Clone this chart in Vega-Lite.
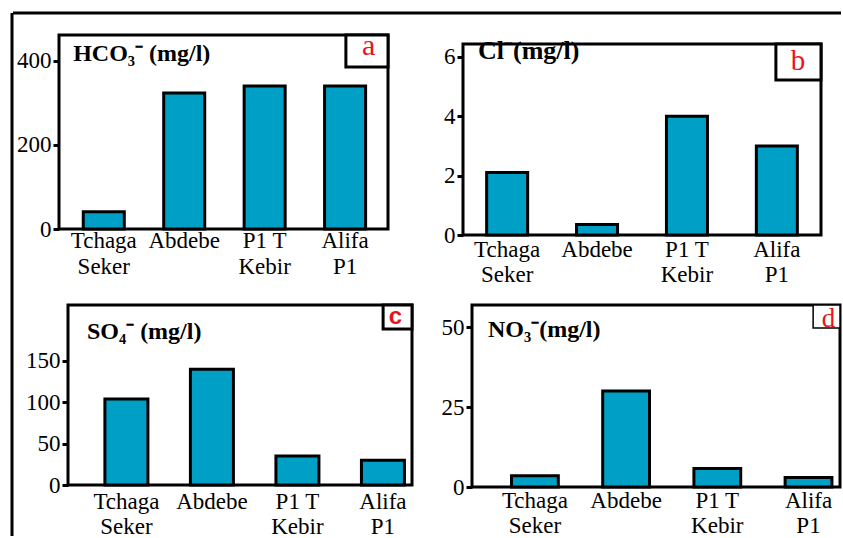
{
  "$schema": "https://vega.github.io/schema/vega-lite/v6.json",
  "padding": {"left": 10, "top": 11, "right": 0, "bottom": 0},
  "background": "white",
  "datasets": {
    "chem": [
      {"ion": "HCO3", "site": "Tchaga Seker", "value": 41},
      {"ion": "HCO3", "site": "Abdebe", "value": 323},
      {"ion": "HCO3", "site": "P1 T Kebir", "value": 340},
      {"ion": "HCO3", "site": "Alifa P1", "value": 340},
      {"ion": "Cl", "site": "Tchaga Seker", "value": 2.1},
      {"ion": "Cl", "site": "Abdebe", "value": 0.35},
      {"ion": "Cl", "site": "P1 T Kebir", "value": 4.0},
      {"ion": "Cl", "site": "Alifa P1", "value": 3.0},
      {"ion": "SO4", "site": "Tchaga Seker", "value": 104},
      {"ion": "SO4", "site": "Abdebe", "value": 140},
      {"ion": "SO4", "site": "P1 T Kebir", "value": 35},
      {"ion": "SO4", "site": "Alifa P1", "value": 30},
      {"ion": "NO3", "site": "Tchaga Seker", "value": 3.5},
      {"ion": "NO3", "site": "Abdebe", "value": 30},
      {"ion": "NO3", "site": "P1 T Kebir", "value": 5.8},
      {"ion": "NO3", "site": "Alifa P1", "value": 3}
    ],
    "spacer": [{"s": 0}]
  },
  "concat": [
    {
      "width": 1, "height": 523,
      "view": {"stroke": null},
      "data": {"values": [{"line": "left"}]},
      "mark": {"type": "rule", "strokeWidth": 3, "color": "black"},
      "encoding": {"x": {"datum": 0, "type": "quantitative", "axis": null}}
    },
    {
      "concat": [
        {
          "width": 828, "height": 1,
          "view": {"stroke": null},
          "data": {"values": [{"line": "top"}]},
          "mark": {"type": "rule", "strokeWidth": 3, "color": "black"},
          "encoding": {"y": {"datum": 0, "type": "quantitative", "axis": null}}
        },
        {
          "concat": [
            {
              "concat": [
                {
                  "concat": [
                    {"width": 1, "height": 1, "view": {"stroke": null}, "data": {"name": "spacer"}, "mark": {"type": "rule", "opacity": 0}, "encoding": {"x": {"datum": 0, "type": "quantitative", "axis": null}}},
                    {
                      "width": 329, "height": 194,
                      "resolve": {"scale": {"x": "independent"}},
                      "layer": [
                        {
                          "data": {"name": "chem"},
                          "transform": [{"filter": "datum.ion === 'HCO3'"}],
                          "mark": {"type": "bar", "fill": "#00A0C6", "stroke": "black", "strokeWidth": 3},
                          "encoding": {
                            "x": {"field": "site", "type": "nominal", "sort": null,
                                  "scale": {"paddingInner": 0.49, "paddingOuter": 0.29, "align": 0.52},
                                  "axis": {"title": null, "labelPadding": 0, "labelLineHeight": 26}},
                            "y": {"field": "value", "type": "quantitative",
                                  "scale": {"domain": [0, 461], "nice": false},
                                  "axis": {"title": null, "values": [0, 200, 400], "minExtent": 43}}
                          }
                        },
                        {
                          "data": {"values": [{"title": "HCO₃⁻ (mg/l)"}]},
                          "mark": {"type": "text", "font": "Liberation Serif", "fontWeight": "bold", "fontSize": 24, "color": "black", "baseline": "alphabetic", "align": "left"},
                          "encoding": {
                            "x": {"datum": 0.043, "type": "quantitative", "scale": {"domain": [0, 1]}, "axis": null},
                            "y": {"datum": 399, "type": "quantitative", "scale": {"domain": [0, 461], "nice": false}},
                            "text": {"field": "title"}
                          }
                        },
                        {
                          "data": {"values": [{"tag": "a"}]},
                          "mark": {"type": "rect", "fill": "white", "stroke": "black", "strokeWidth": 3},
                          "encoding": {
                            "x": {"datum": 0.872, "type": "quantitative", "scale": {"domain": [0, 1]}, "axis": null},
                            "x2": {"datum": 1},
                            "y": {"datum": 461, "type": "quantitative", "scale": {"domain": [0, 461], "nice": false}},
                            "y2": {"datum": 385}
                          }
                        },
                        {
                          "data": {"values": [{"tag": "a"}]},
                          "mark": {"type": "text", "font": "Liberation Serif", "fontSize": 30, "color": "#E8141B", "baseline": "alphabetic", "align": "center"},
                          "encoding": {
                            "x": {"datum": 0.941, "type": "quantitative", "scale": {"domain": [0, 1]}, "axis": null},
                            "y": {"datum": 413, "type": "quantitative", "scale": {"domain": [0, 461], "nice": false}},
                            "text": {"field": "tag"}
                          }
                        }
                      ]
                    }
                  ],
                  "columns": 2, "align": "none", "spacing": 0
                },
                {
                  "concat": [
                    {"width": 1, "height": 1, "view": {"stroke": null}, "data": {"name": "spacer"}, "mark": {"type": "rule", "opacity": 0}, "encoding": {"x": {"datum": 0, "type": "quantitative", "axis": null}}},
                    {
                      "width": 344, "height": 180,
                      "resolve": {"scale": {"x": "independent"}},
                      "layer": [
                        {
                          "data": {"name": "chem"},
                          "transform": [{"filter": "datum.ion === 'SO4'"}],
                          "mark": {"type": "bar", "fill": "#00A0C6", "stroke": "black", "strokeWidth": 3},
                          "encoding": {
                            "x": {"field": "site", "type": "nominal", "sort": null,
                                  "scale": {"paddingInner": 0.497, "paddingOuter": 0.26, "align": 0.83},
                                  "axis": {"title": null, "labelPadding": 5}},
                            "y": {"field": "value", "type": "quantitative",
                                  "scale": {"domain": [0, 217.6], "nice": false},
                                  "axis": {"title": null, "values": [0, 50, 100, 150], "minExtent": 52}}
                          }
                        },
                        {
                          "data": {"values": [{"title": "SO₄⁻ (mg/l)"}]},
                          "mark": {"type": "text", "font": "Liberation Serif", "fontWeight": "bold", "fontSize": 24, "color": "black", "baseline": "alphabetic", "align": "left"},
                          "encoding": {
                            "x": {"datum": 0.055, "type": "quantitative", "scale": {"domain": [0, 1]}, "axis": null},
                            "y": {"datum": 176.5, "type": "quantitative", "scale": {"domain": [0, 217.6], "nice": false}},
                            "text": {"field": "title"}
                          }
                        },
                        {
                          "data": {"values": [{"tag": "c"}]},
                          "mark": {"type": "rect", "fill": "white", "stroke": "black", "strokeWidth": 3},
                          "encoding": {
                            "x": {"datum": 0.916, "type": "quantitative", "scale": {"domain": [0, 1]}, "axis": null},
                            "x2": {"datum": 1},
                            "y": {"datum": 217.6, "type": "quantitative", "scale": {"domain": [0, 217.6], "nice": false}},
                            "y2": {"datum": 188.6}
                          }
                        },
                        {
                          "data": {"values": [{"tag": "c"}]},
                          "mark": {"type": "text", "font": "Liberation Sans", "fontWeight": "bold", "fontSize": 24, "color": "#E8141B", "baseline": "alphabetic", "align": "center"},
                          "encoding": {
                            "x": {"datum": 0.952, "type": "quantitative", "scale": {"domain": [0, 1]}, "axis": null},
                            "y": {"datum": 194.6, "type": "quantitative", "scale": {"domain": [0, 217.6], "nice": false}},
                            "text": {"field": "tag"}
                          }
                        }
                      ]
                    }
                  ],
                  "columns": 2, "align": "none", "spacing": 0
                }
              ],
              "columns": 1, "align": "none", "spacing": 22
            },
            {
              "concat": [
                {"width": 1, "height": 1, "view": {"stroke": null}, "data": {"name": "spacer"}, "mark": {"type": "rule", "opacity": 0}, "encoding": {"x": {"datum": 0, "type": "quantitative", "axis": null}}},
                {
                  "concat": [
                    {
                      "concat": [
                        {"width": 1, "height": 1, "view": {"stroke": null}, "data": {"name": "spacer"}, "mark": {"type": "rule", "opacity": 0}, "encoding": {"x": {"datum": 0, "type": "quantitative", "axis": null}}},
                        {
                          "width": 358, "height": 191,
                          "resolve": {"scale": {"x": "independent"}},
                          "layer": [
                            {
                              "data": {"name": "chem"},
                              "transform": [{"filter": "datum.ion === 'Cl'"}],
                              "mark": {"type": "bar", "fill": "#00A0C6", "stroke": "black", "strokeWidth": 3},
                              "encoding": {
                                "x": {"field": "site", "type": "nominal", "sort": null,
                                      "scale": {"paddingInner": 0.544, "paddingOuter": 0.263, "align": 0.5},
                                      "axis": {"title": null, "labelPadding": 3}},
                                "y": {"field": "value", "type": "quantitative",
                                      "scale": {"domain": [0, 6.43], "nice": false},
                                      "axis": {"title": null, "values": [0, 2, 4, 6], "minExtent": 29}}
                              }
                            },
                            {
                              "data": {"values": [{"title": "Cl⁻(mg/l)"}]},
                              "mark": {"type": "text", "font": "Liberation Serif", "fontWeight": "bold", "fontSize": 26, "color": "black", "baseline": "alphabetic", "align": "left"},
                              "encoding": {
                                "x": {"datum": 0.042, "type": "quantitative", "scale": {"domain": [0, 1]}, "axis": null},
                                "y": {"datum": 5.925, "type": "quantitative", "scale": {"domain": [0, 6.43], "nice": false}},
                                "text": {"field": "title"}
                              }
                            },
                            {
                              "data": {"values": [{"tag": "b"}]},
                              "mark": {"type": "rect", "fill": "white", "stroke": "black", "strokeWidth": 3},
                              "encoding": {
                                "x": {"datum": 0.874, "type": "quantitative", "scale": {"domain": [0, 1]}, "axis": null},
                                "x2": {"datum": 1},
                                "y": {"datum": 6.43, "type": "quantitative", "scale": {"domain": [0, 6.43], "nice": false}},
                                "y2": {"datum": 5.22}
                              }
                            },
                            {
                              "data": {"values": [{"tag": "b"}]},
                              "mark": {"type": "text", "font": "Liberation Serif", "fontSize": 29, "color": "#E8141B", "baseline": "alphabetic", "align": "center"},
                              "encoding": {
                                "x": {"datum": 0.936, "type": "quantitative", "scale": {"domain": [0, 1]}, "axis": null},
                                "y": {"datum": 5.555, "type": "quantitative", "scale": {"domain": [0, 6.43], "nice": false}},
                                "text": {"field": "tag"}
                              }
                            }
                          ]
                        }
                      ],
                      "columns": 2, "align": "none", "spacing": 0
                    },
                    {
                      "concat": [
                        {"width": 1, "height": 1, "view": {"stroke": null}, "data": {"name": "spacer"}, "mark": {"type": "rule", "opacity": 0}, "encoding": {"x": {"datum": 0, "type": "quantitative", "axis": null}}},
                        {
                          "width": 368, "height": 182,
                          "resolve": {"scale": {"x": "independent"}},
                          "layer": [
                            {
                              "data": {"name": "chem"},
                              "transform": [{"filter": "datum.ion === 'NO3'"}],
                              "mark": {"type": "bar", "fill": "#00A0C6", "stroke": "black", "strokeWidth": 3},
                              "encoding": {
                                "x": {"field": "site", "type": "nominal", "sort": null,
                                      "scale": {"paddingInner": 0.487, "paddingOuter": 0.261, "align": 0.83},
                                      "axis": {"title": null, "labelPadding": 2}},
                                "y": {"field": "value", "type": "quantitative",
                                      "scale": {"domain": [0, 56.9], "nice": false},
                                      "axis": {"title": null, "values": [0, 25, 50], "minExtent": 38}}
                              }
                            },
                            {
                              "data": {"values": [{"title": "NO₃⁻(mg/l)"}]},
                              "mark": {"type": "text", "font": "Liberation Serif", "fontWeight": "bold", "fontSize": 24, "color": "black", "baseline": "alphabetic", "align": "left"},
                              "encoding": {
                                "x": {"datum": 0.0435, "type": "quantitative", "scale": {"domain": [0, 1]}, "axis": null},
                                "y": {"datum": 46.9, "type": "quantitative", "scale": {"domain": [0, 56.9], "nice": false}},
                                "text": {"field": "title"}
                              }
                            },
                            {
                              "data": {"values": [{"tag": "d"}]},
                              "mark": {"type": "rect", "fill": "white", "stroke": "black", "strokeWidth": 1.5},
                              "encoding": {
                                "x": {"datum": 0.927, "type": "quantitative", "scale": {"domain": [0, 1]}, "axis": null},
                                "x2": {"datum": 1},
                                "y": {"datum": 56.9, "type": "quantitative", "scale": {"domain": [0, 56.9], "nice": false}},
                                "y2": {"datum": 49.7}
                              }
                            },
                            {
                              "data": {"values": [{"tag": "d"}]},
                              "mark": {"type": "text", "font": "Liberation Serif", "fontSize": 27, "color": "#E8141B", "baseline": "alphabetic", "align": "center"},
                              "encoding": {
                                "x": {"datum": 0.969, "type": "quantitative", "scale": {"domain": [0, 1]}, "axis": null},
                                "y": {"datum": 50.0, "type": "quantitative", "scale": {"domain": [0, 56.9], "nice": false}},
                                "text": {"field": "tag"}
                              }
                            }
                          ]
                        }
                      ],
                      "columns": 2, "align": "none", "spacing": 0
                    }
                  ],
                  "columns": 1, "align": "none", "spacing": 14
                }
              ],
              "columns": 1, "align": "none", "spacing": 0
            }
          ],
          "columns": 2, "align": "none", "spacing": 16
        }
      ],
      "columns": 1, "align": "none", "spacing": 14
    }
  ],
  "columns": 2, "align": "none", "spacing": -3,
  "config": {
    "view": {"stroke": "black", "strokeWidth": 3},
    "axis": {
      "labelFont": "Liberation Serif", "labelFontSize": 23, "labelColor": "black",
      "grid": false, "domain": false, "tickColor": "black", "tickWidth": 3, "tickSize": 6
    },
    "axisX": {
      "ticks": false, "labelAngle": 0, "labelLineHeight": 25, "labelAlign": "center", "labelBaseline": "top",
      "labelExpr": "datum.label == 'P1 T Kebir' ? ['P1 T', 'Kebir'] : split(datum.label, ' ')"
    },
    "axisY": {"labelPadding": 2}
  }
}
